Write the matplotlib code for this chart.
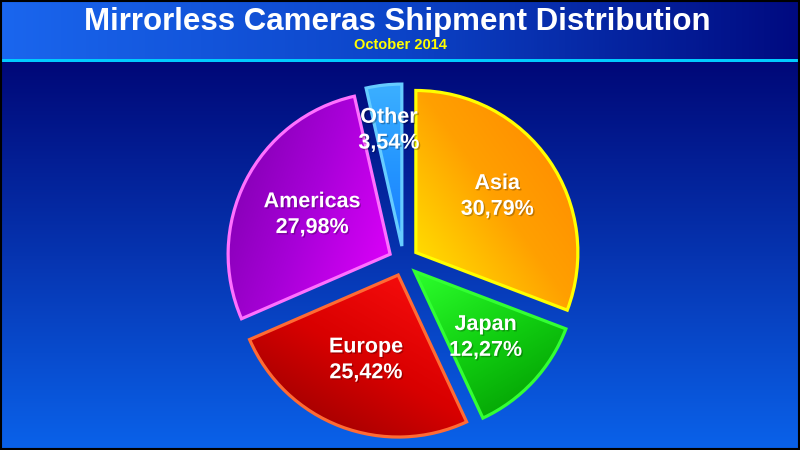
import numpy as np
import matplotlib
matplotlib.use('Agg')
import matplotlib.pyplot as plt
from matplotlib.colors import LinearSegmentedColormap
from matplotlib.patches import Rectangle
import matplotlib.patheffects as pe

title = "Mirrorless Cameras Shipment Distribution"
subtitle = "October 2014"
regions = ["Asia", "Japan", "Europe", "Americas", "Other"]
shares = [30.79, 12.27, 25.42, 27.98, 3.54]

# styles
fill_stops = [
    ['#ffee00', '#ffa000', '#ff8400'],
    ['#2cff2c', '#10cc10', '#009400'],
    ['#ff1010', '#d80000', '#8a0000'],
    ['#7800a8', '#a800d8', '#e400ff'],
    ['#1a7cff', '#2496ff', '#3cb0ff'],
]
grad_angle = [35, -60, -120, -20, 90]
edge_colors = ['#ffff00', '#33ff33', '#ff6a33', '#ff70ff', '#66ccff']
label_dist = [0.61, 0.60, 0.56, 0.54, 0.72]

W, H = 800, 450
fig = plt.figure(figsize=(8, 4.5), dpi=100)
bg = fig.add_axes([0, 0, 1, 1])
bg.set_xlim(0, W)
bg.set_ylim(H, 0)
bg.axis('off')

xg = np.linspace(0, 1, 256)[None, :]
cm_bar = LinearSegmentedColormap.from_list('bar', ['#1a66ee', '#0c44c8', '#000a80'])
bg.imshow(xg, cmap=cm_bar, extent=[0, W, 59, 0], aspect='auto', interpolation='bilinear')
yg = np.linspace(0, 1, 256)[:, None]
cm_main = LinearSegmentedColormap.from_list('main', ['#000878', '#0634b0', '#0a62ea'])
bg.imshow(yg, cmap=cm_main, extent=[0, W, H, 62], aspect='auto', interpolation='bilinear')
bg.add_patch(Rectangle((0, 59), W, 3, color='#00ccff', lw=0))
bg.add_patch(Rectangle((0.75, 0.75), W - 1.5, H - 1.5, fill=False, ec='black', lw=1.5))

fig.text(0.497, 1 - 22 / 450, title, ha='center', va='center', fontsize=22.5,
         fontweight='bold', color='white', family='Liberation Sans')
fig.text(0.5, 1 - 45 / 450, subtitle, ha='center', va='center', fontsize=10.5,
         fontweight='bold', color='#ffff00', family='Liberation Sans')

# pie axes
cx, cy, R = 403.5, 450 - 261, 162.0
half = 200
ax = fig.add_axes([(cx - half) / W, (cy - half) / H, 2 * half / W, 2 * half / H])
wedges, _ = ax.pie(shares, explode=[15 / R] * len(shares), startangle=90,
                   counterclock=False, radius=1)
ax.set_xlim(-half / R, half / R)
ax.set_ylim(-half / R, half / R)
ax.set_aspect('equal', adjustable='box')
ax.axis('off')

for i, w in enumerate(wedges):
    w.set_facecolor('none')
    w.set_edgecolor(edge_colors[i])
    w.set_linewidth(2.3)
    w.set_joinstyle('miter')
    w.set_zorder(3)
    verts = w.get_path().vertices
    x0, y0 = verts.min(axis=0)
    x1, y1 = verts.max(axis=0)
    n = 200
    gx, gy = np.meshgrid(np.linspace(x0, x1, n), np.linspace(y1, y0, n))
    a = np.deg2rad(grad_angle[i])
    p = gx * np.cos(a) + gy * np.sin(a)
    t = (p - p.min()) / (p.max() - p.min())
    cmap = LinearSegmentedColormap.from_list(f'w{i}', fill_stops[i])
    img = cmap(t)
    im = ax.imshow(img, extent=[x0, x1, y0, y1], zorder=2, interpolation='bilinear')
    im.set_clip_path(w)
    th = np.deg2rad((w.theta1 + w.theta2) / 2)
    wx, wy = w.center
    d = label_dist[i] * w.r
    txt = f"{regions[i]}\n{shares[i]:.2f}%".replace('.', ',')
    ax.text(wx + d * np.cos(th), wy + d * np.sin(th), txt, ha='center', va='center',
            fontsize=15.5, fontweight='bold', color='white', family='Liberation Sans',
            linespacing=1.3, zorder=5,
            path_effects=[pe.withSimplePatchShadow(offset=(1, -1), shadow_rgbFace='black', alpha=0.25)])

fig.savefig('out.png', dpi=100)
